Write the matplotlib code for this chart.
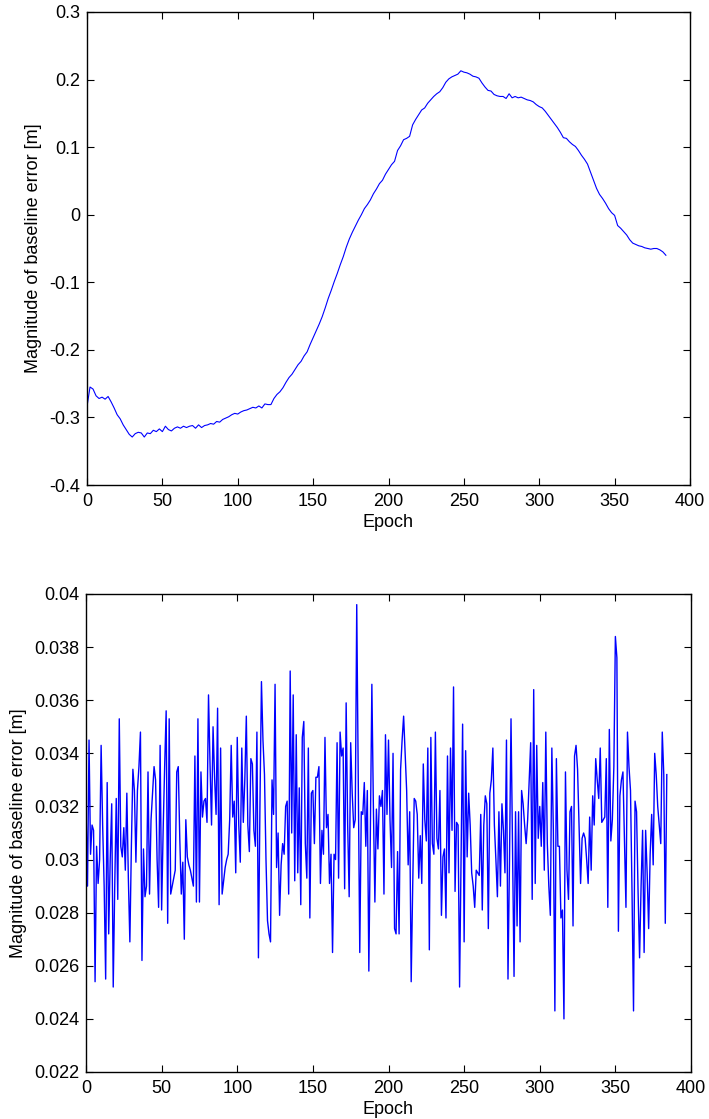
import matplotlib
matplotlib.use("Agg")
import matplotlib.pyplot as plt
from matplotlib.ticker import FuncFormatter
import numpy as np

plt.rcParams['font.family'] = ['Liberation Sans', 'DejaVu Sans']
plt.rcParams['axes.unicode_minus'] = False

# ---------------- data ----------------
# Top panel: baseline error (float solution), sampled every 2 epochs
top_epochs = list(range(0, 385, 2))
top_values = [
    -0.284, -0.255, -0.258, -0.268, -0.272, -0.270, -0.273, -0.269, -0.277, -0.286,
    -0.296, -0.302, -0.311, -0.318, -0.325, -0.329, -0.324, -0.322, -0.323, -0.329,
    -0.323, -0.324, -0.319, -0.321, -0.317, -0.321, -0.313, -0.318, -0.320, -0.316,
    -0.314, -0.316, -0.313, -0.315, -0.313, -0.312, -0.316, -0.311, -0.315, -0.312,
    -0.311, -0.309, -0.310, -0.306, -0.307, -0.303, -0.301, -0.299, -0.296, -0.294,
    -0.295, -0.292, -0.290, -0.289, -0.287, -0.285, -0.286, -0.283, -0.286, -0.280,
    -0.281, -0.281, -0.272, -0.266, -0.262, -0.256, -0.248, -0.241, -0.236, -0.229,
    -0.222, -0.217, -0.209, -0.203, -0.192, -0.182, -0.172, -0.162, -0.151, -0.138,
    -0.124, -0.112, -0.099, -0.087, -0.074, -0.062, -0.048, -0.036, -0.026, -0.017,
    -0.008, 0.000, 0.009, 0.015, 0.022, 0.031, 0.038, 0.046, 0.051, 0.060,
    0.067, 0.074, 0.079, 0.095, 0.102, 0.111, 0.113, 0.116, 0.133, 0.141,
    0.148, 0.155, 0.158, 0.165, 0.170, 0.175, 0.179, 0.182, 0.188, 0.196,
    0.201, 0.204, 0.206, 0.208, 0.213, 0.211, 0.210, 0.208, 0.205, 0.204,
    0.202, 0.195, 0.189, 0.184, 0.183, 0.178, 0.176, 0.175, 0.175, 0.172,
    0.179, 0.173, 0.175, 0.173, 0.174, 0.172, 0.170, 0.169, 0.167, 0.163,
    0.160, 0.158, 0.153, 0.147, 0.141, 0.135, 0.129, 0.122, 0.114, 0.113,
    0.108, 0.104, 0.101, 0.095, 0.088, 0.082, 0.075, 0.063, 0.051, 0.039,
    0.030, 0.024, 0.017, 0.009, 0.003, -0.001, -0.016, -0.020, -0.025, -0.030,
    -0.037, -0.042, -0.044, -0.046, -0.047, -0.049, -0.050, -0.051, -0.050, -0.050,
    -0.052, -0.055, -0.060,
]

# Bottom panel: baseline error (fixed solution), one value per epoch 0..384
bottom_values = [
    0.0320, 0.0290, 0.0345, 0.0302, 0.0313, 0.0311, 0.0254, 0.0305, 0.0291, 0.0300,
    0.0343, 0.0313, 0.0290, 0.0255, 0.0329, 0.0272, 0.0300, 0.0321, 0.0252, 0.0290,
    0.0323, 0.0285, 0.0353, 0.0305, 0.0301, 0.0312, 0.0296, 0.0325, 0.0293, 0.0269,
    0.0305, 0.0334, 0.0326, 0.0299, 0.0326, 0.0335, 0.0348, 0.0262, 0.0304, 0.0286,
    0.0290, 0.0333, 0.0287, 0.0315, 0.0325, 0.0335, 0.0330, 0.0300, 0.0282, 0.0343,
    0.0281, 0.0311, 0.0335, 0.0356, 0.0276, 0.0353, 0.0287, 0.0290, 0.0293, 0.0296,
    0.0333, 0.0335, 0.0308, 0.0287, 0.0299, 0.0270, 0.0315, 0.0301, 0.0298, 0.0296,
    0.0293, 0.0290, 0.0339, 0.0284, 0.0353, 0.0284, 0.0333, 0.0316, 0.0322, 0.0323,
    0.0314, 0.0362, 0.0336, 0.0313, 0.0350, 0.0331, 0.0317, 0.0357, 0.0283, 0.0342,
    0.0287, 0.0292, 0.0297, 0.0300, 0.0302, 0.0315, 0.0343, 0.0316, 0.0322, 0.0295,
    0.0346, 0.0313, 0.0299, 0.0342, 0.0314, 0.0330, 0.0354, 0.0313, 0.0303, 0.0338,
    0.0336, 0.0311, 0.0305, 0.0348, 0.0263, 0.0320, 0.0367, 0.0345, 0.0332, 0.0300,
    0.0277, 0.0272, 0.0269, 0.0330, 0.0317, 0.0366, 0.0297, 0.0310, 0.0279, 0.0298,
    0.0306, 0.0302, 0.0320, 0.0322, 0.0287, 0.0371, 0.0310, 0.0362, 0.0292, 0.0347,
    0.0295, 0.0327, 0.0283, 0.0346, 0.0352, 0.0306, 0.0293, 0.0342, 0.0278, 0.0325,
    0.0326, 0.0306, 0.0331, 0.0331, 0.0335, 0.0291, 0.0311, 0.0302, 0.0346, 0.0312,
    0.0317, 0.0291, 0.0302, 0.0265, 0.0302, 0.0300, 0.0344, 0.0293, 0.0348, 0.0339,
    0.0342, 0.0289, 0.0359, 0.0313, 0.0286, 0.0344, 0.0325, 0.0312, 0.0315, 0.0396,
    0.0330, 0.0265, 0.0318, 0.0317, 0.0329, 0.0305, 0.0326, 0.0258, 0.0310, 0.0366,
    0.0320, 0.0284, 0.0319, 0.0304, 0.0324, 0.0320, 0.0326, 0.0287, 0.0347, 0.0317,
    0.0345, 0.0315, 0.0297, 0.0340, 0.0274, 0.0272, 0.0303, 0.0272, 0.0334, 0.0345,
    0.0354, 0.0340, 0.0326, 0.0298, 0.0318, 0.0254, 0.0290, 0.0323, 0.0322, 0.0317,
    0.0293, 0.0309, 0.0291, 0.0336, 0.0315, 0.0307, 0.0342, 0.0266, 0.0346, 0.0306,
    0.0302, 0.0348, 0.0308, 0.0304, 0.0326, 0.0279, 0.0301, 0.0304, 0.0278, 0.0339,
    0.0295, 0.0342, 0.0311, 0.0365, 0.0288, 0.0314, 0.0313, 0.0252, 0.0300, 0.0351,
    0.0269, 0.0341, 0.0301, 0.0325, 0.0313, 0.0295, 0.0290, 0.0282, 0.0296, 0.0295,
    0.0294, 0.0317, 0.0281, 0.0313, 0.0324, 0.0321, 0.0274, 0.0325, 0.0330, 0.0342,
    0.0313, 0.0300, 0.0286, 0.0318, 0.0290, 0.0321, 0.0311, 0.0295, 0.0345, 0.0255,
    0.0300, 0.0353, 0.0306, 0.0256, 0.0318, 0.0275, 0.0318, 0.0269, 0.0326, 0.0321,
    0.0313, 0.0306, 0.0315, 0.0330, 0.0344, 0.0285, 0.0364, 0.0291, 0.0343, 0.0308,
    0.0320, 0.0305, 0.0329, 0.0296, 0.0348, 0.0306, 0.0290, 0.0279, 0.0342, 0.0311,
    0.0243, 0.0338, 0.0305, 0.0305, 0.0278, 0.0281, 0.0240, 0.0333, 0.0296, 0.0285,
    0.0318, 0.0320, 0.0275, 0.0339, 0.0343, 0.0334, 0.0313, 0.0291, 0.0308, 0.0310,
    0.0308, 0.0300, 0.0291, 0.0316, 0.0296, 0.0324, 0.0313, 0.0338, 0.0330, 0.0323,
    0.0342, 0.0314, 0.0315, 0.0316, 0.0338, 0.0282, 0.0349, 0.0307, 0.0315, 0.0335,
    0.0384, 0.0376, 0.0273, 0.0324, 0.0330, 0.0333, 0.0307, 0.0282, 0.0348, 0.0335,
    0.0326, 0.0288, 0.0243, 0.0322, 0.0318, 0.0288, 0.0263, 0.0290, 0.0311, 0.0265,
    0.0311, 0.0295, 0.0274, 0.0302, 0.0317, 0.0298, 0.0340, 0.0332, 0.0320, 0.0313,
    0.0306, 0.0348, 0.0332, 0.0276, 0.0332,
]
bottom_epochs = list(range(len(bottom_values)))

x_ticks = [0, 50, 100, 150, 200, 250, 300, 350, 400]
top_yticks = [-0.4, -0.3, -0.2, -0.1, 0, 0.1, 0.2, 0.3]
bottom_yticks = [0.022, 0.024, 0.026, 0.028, 0.030, 0.032, 0.034, 0.036, 0.038, 0.040]

x_label = "Epoch"
y_label = "Magnitude of baseline error [m]"

# ---------------- figure ----------------
W, H = 709, 1119
fig = plt.figure(figsize=(W / 100, H / 100), dpi=100)

def g_fmt(v, pos):
    return "%g" % round(v, 6)

def style(ax):
    ax.tick_params(direction='in', length=5, width=0.8, top=True, right=True,
                   labelsize=13, pad=6, colors='black')
    ax.tick_params(axis='y', pad=5)
    for sp in ax.spines.values():
        sp.set_linewidth(1.0)
    ax.xaxis.set_major_formatter(FuncFormatter(g_fmt))
    ax.yaxis.set_major_formatter(FuncFormatter(g_fmt))

ax1 = fig.add_axes([87 / W, 1 - 485 / H, (690 - 87) / W, (485 - 12) / H])
ax1.plot(top_epochs, top_values, color=(0, 0, 1), linewidth=0.8)
ax1.set_xlim(0, 400)
ax1.set_ylim(-0.4, 0.3)
ax1.set_xticks(x_ticks)
ax1.set_yticks(top_yticks)
style(ax1)
ax1.set_xlabel(x_label, fontsize=13, labelpad=3)
ax1.set_ylabel(y_label, fontsize=13, labelpad=5)

ax2 = fig.add_axes([86 / W, 1 - 1072 / H, (691 - 86) / W, (1072 - 594) / H])
ax2.plot(bottom_epochs, bottom_values, color=(0, 0, 1), linewidth=1.0)
ax2.set_xlim(0, 400)
ax2.set_ylim(0.022, 0.040)
ax2.set_xticks(x_ticks)
ax2.set_yticks(bottom_yticks)
style(ax2)
ax2.set_xlabel(x_label, fontsize=13, labelpad=3)
ax2.set_ylabel(y_label, fontsize=13, labelpad=5)

fig.savefig("out.png", dpi=100)
